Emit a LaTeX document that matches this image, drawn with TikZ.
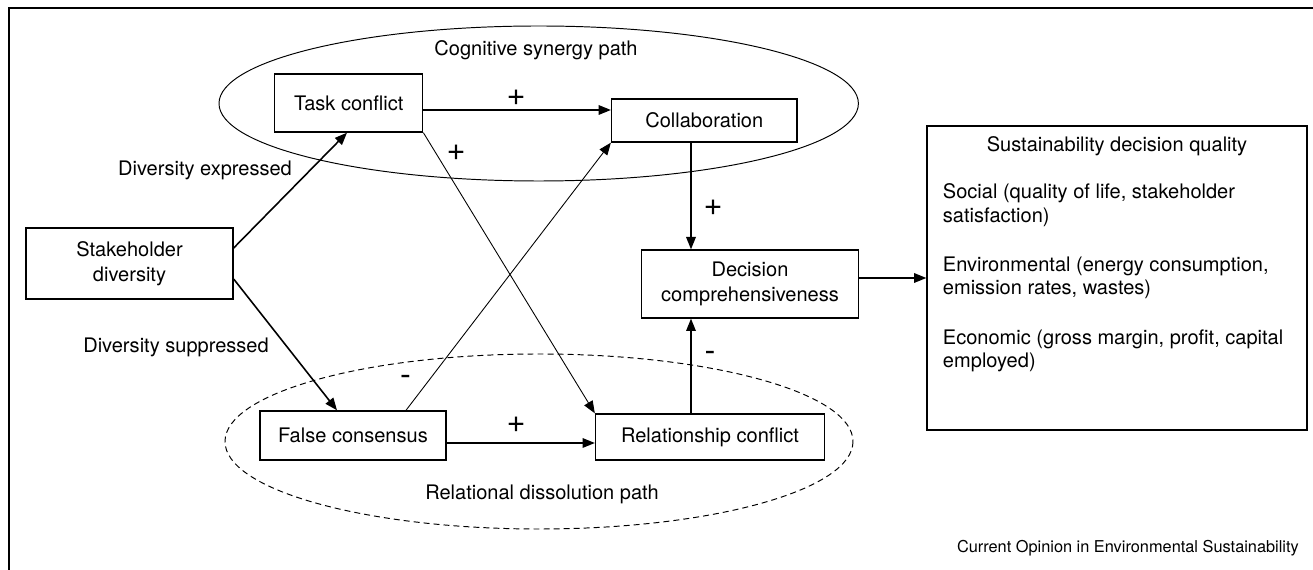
\documentclass[tikz,border=0pt]{standalone}
\usepackage{fontspec}
\setmainfont{TeX Gyre Heros}
\usepackage{tikz}
\usetikzlibrary{arrows.meta}

\begin{document}
\begin{tikzpicture}[x=0.02cm, y=-0.02cm,
        box/.style={draw, line width=0.8pt, inner sep=0pt, align=center, font=\fontsize{11.4}{14.2}\selectfont},
        lbl/.style={font=\fontsize{11.4}{14.2}\selectfont},
        sign/.style={font=\fontsize{18.5}{20}\selectfont, inner sep=0pt},
        arr/.style={-{Triangle[length=7pt,width=5.5pt]}, line width=0.7pt}]
        \useasboundingbox (0,0) rectangle (1313,570);
        \draw[line width=0.6pt] (9,570) -- (9,8) -- (1313,8);

        % the two paths
        \draw[line width=0.55pt] (538.7,103.5) ellipse [x radius=319.7, y radius=77.5];
        \draw[line width=0.55pt, dash pattern=on 3.4pt off 2.3pt] (539,441.5) ellipse [x radius=314, y radius=87.5];
        \node[lbl] (cogpath) at (536,50) {Cognitive synergy path};
        \node[lbl] (relpath) at (542,494) {Relational dissolution path};

        \node[box, minimum width=4.14cm, minimum height=1.42cm] (sd) at (129.5,263.5) {Stakeholder\\diversity};
        \node[box, minimum width=2.96cm, minimum height=1.16cm] (task) at (348.7,103) {Task conflict};
        \node[box, minimum width=3.71cm, minimum height=0.86cm] (collab) at (704.3,120.5) {Collaboration};
        \node[box, minimum width=3.72cm, minimum height=0.98cm] (fc) at (353,435.5) {False consensus};
        \node[box, minimum width=4.58cm, minimum height=0.92cm] (rel) at (710,437) {Relationship conflict};
        \node[box, minimum width=4.34cm, minimum height=1.36cm] (dec) at (750,284) {Decision\\comprehensiveness};
        \node[box, minimum width=7.6cm, minimum height=6.08cm] (sust) at (1117,278) {};

        \node[lbl] (squal) at (1117,146) {Sustainability decision quality};
        \node[lbl, anchor=north west, inner sep=0pt, align=left, font=\fontsize{11.4}{13.2}\selectfont] (dims) at (942.6,183.5)
            {Social (quality of life, stakeholder\\satisfaction)\\[15pt]
             Environmental (energy consumption,\\emission rates, wastes)\\[15pt]
             Economic (gross margin, profit, capital\\employed)};

        \node[lbl] (expr) at (205,170) {Diversity expressed};
        \node[lbl] (supp) at (176,347) {Diversity suppressed};

        \draw[arr, line width=0.9pt] (sd.east |- 0,248) -- (task.south -| 347,0);
        \draw[arr, line width=0.9pt] (sd.east |- 0,279) -- (fc.north -| 337,0);
        \draw[arr] (task.east |- 0,110) -- (collab.west |- 0,110);
        \draw[arr] (fc.east |- 0,443) -- (rel.west |- 0,443);
        \draw[arr, line width=0.5pt] (task.south east) -- (rel.north west);
        \draw[arr, line width=0.5pt] (fc.north -| 406,0) -- (collab.south west);
        \draw[arr] (collab.south -| 691,0) -- (dec.north -| 691,0);
        \draw[arr] (rel.north -| 691,0) -- (dec.south -| 691,0);
        \draw[arr] (dec.east |- sust.west) -- (sust.west);

        \node[sign] (p1) at (516,97.5) {+};
        \node[sign] (p2) at (456,153) {+};
        \node[sign] (p3) at (713,208) {+};
        \node[sign] (p4) at (516,425) {+};
        \node[sign] (m1) at (405.5,380.5) {-};
        \node[sign] (m2) at (710,356) {-};

        \node[anchor=east, font=\fontsize{9.3}{11}\selectfont] (journal) at (1305,548) {Current Opinion in Environmental Sustainability};
\end{tikzpicture}
\end{document}
